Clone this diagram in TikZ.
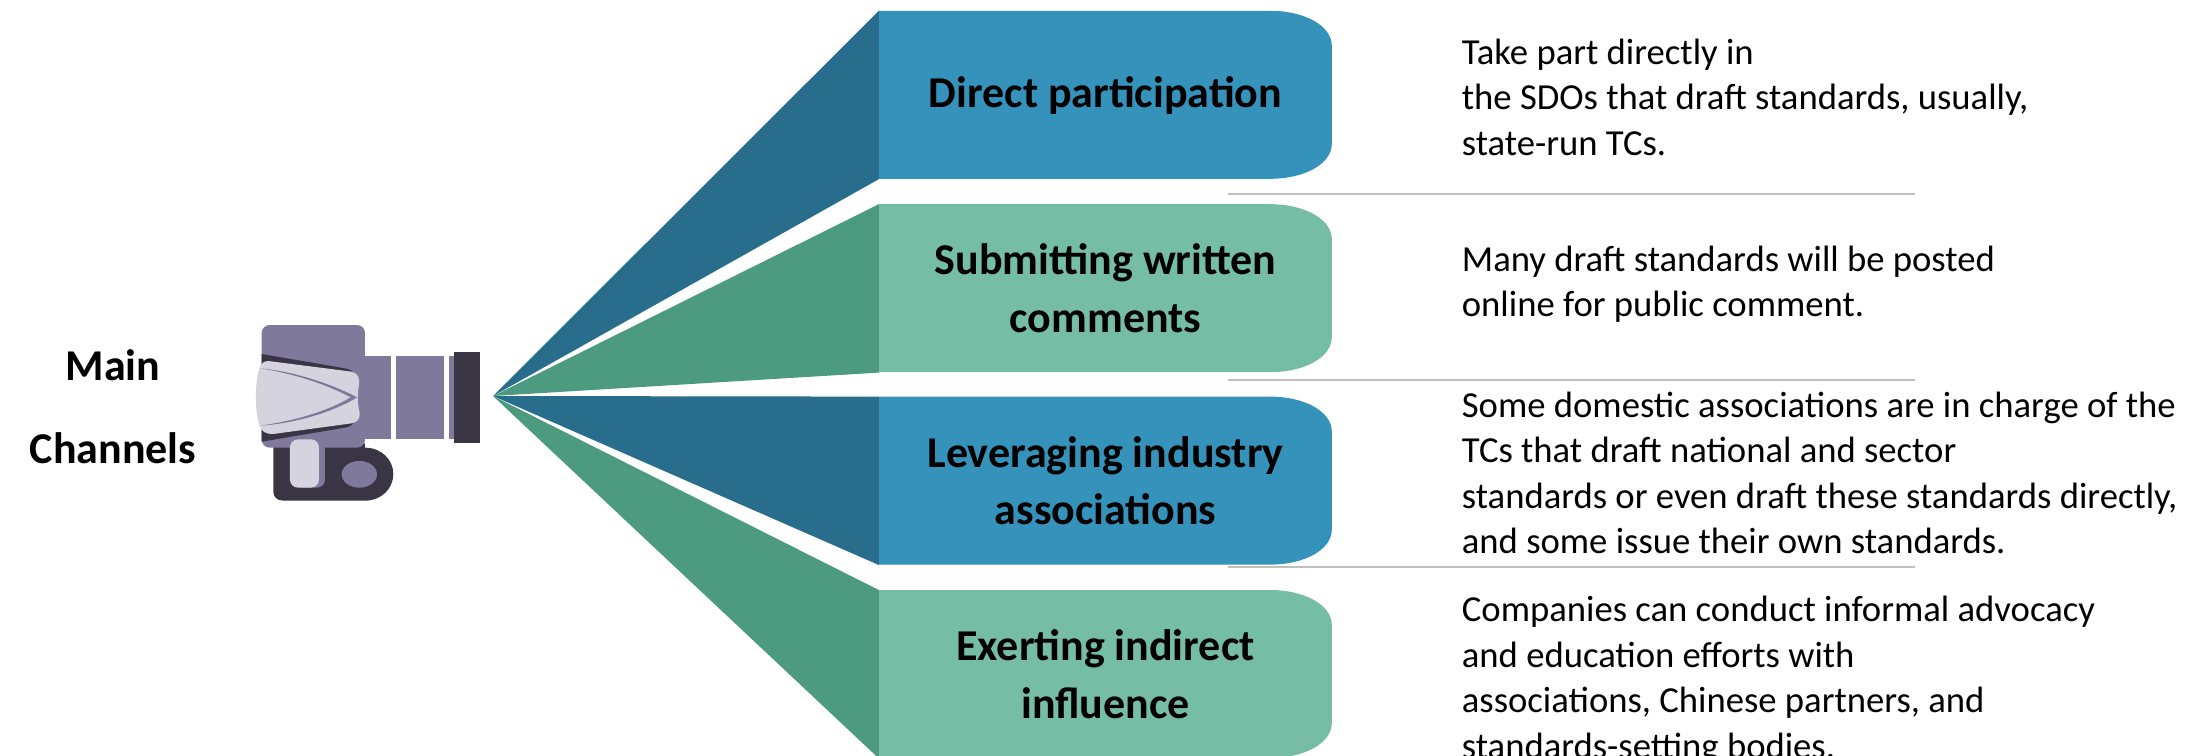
\documentclass[tikz,border=0pt]{standalone}
\usepackage{fontspec}
\setmainfont{Carlito}
\usetikzlibrary{positioning,backgrounds}
\definecolor{tabblue}{HTML}{3592BA}
\definecolor{wedgeblue}{HTML}{286E8C}
\definecolor{tabgreen}{HTML}{76BDA6}
\definecolor{wedgegreen}{HTML}{4C9B80}
\definecolor{rulegray}{HTML}{BFBFBF}
\definecolor{camgray}{HTML}{7F7A9C}
\definecolor{camdark}{HTML}{393545}
\definecolor{camlight}{HTML}{D5D3DE}

\begin{document}
\begin{tikzpicture}[x=1pt,y=-1pt]
                  \tikzstyle{channel}=[minimum width=453pt,minimum height=168pt,inner sep=0pt,align=center,font=\fontsize{44}{57.5}\selectfont\bfseries]
                  \tikzstyle{note}=[inner sep=0pt,align=left,font=\fontsize{36.67}{45.5}\selectfont]
                  \tikzstyle{title}=[inner sep=0pt,align=center,font=\fontsize{44}{82.6}\selectfont\bfseries]
                  \tikzstyle{rule}=[draw=rulegray,line width=1.2pt]
                  \tikzstyle{tab}=[shift={(#1.north west)},insert path={(0,0) -- (391,0) .. controls (426,0) and (453,15) .. (453,35) -- (453,133) .. controls (453,153) and (426,168) .. (391,168) -- (0,168) -- cycle}]
                  \tikzstyle{wedge}=[line width=0pt]

                  \useasboundingbox (0,0) rectangle (2206,755);

                  \node[channel]         (B1) at (1105.5,95)    {Direct participation};
                  \node[channel]         (B2) [below=25pt of B1] {Submitting written\\comments};
                  \node[channel]         (B3) [below=24pt of B2] {Leveraging industry\\associations};
                  \node[channel]         (B4) [below=25pt of B3] {Exerting indirect\\influence};

                  \node[note]            (N1) [right=129.5pt of B1,yshift=-2pt] {Take part directly in\\the SDOs that draft standards, usually,\\state-run TCs.};
                  \node[note]            (N2) [right=129.5pt of B2,yshift=4pt]  {Many draft standards will be posted\\online for public comment.};
                  \node[note]            (N3) [right=129.5pt of B3,yshift=8pt]  {Some domestic associations are in charge of the\\TCs that draft national and sector\\standards or even draft these standards directly,\\and some issue their own standards.};
                  \node[note]            (N4) [right=129.5pt of B4,yshift=-6pt] {Companies can conduct informal advocacy\\and education efforts with\\associations, Chinese partners, and\\standards-setting bodies.};

                  \node[title]           (M) at (113,407) {Main\hspace{11pt}\\Channels};

                  \coordinate (T) at (493,396);
                  \coordinate (R1a) at (1228,194);
                  \coordinate (R1b) at (1915,194);
                  \coordinate (R2a) at (1228,380);
                  \coordinate (R2b) at (1915,380);
                  \coordinate (R3a) at (1228,567);
                  \coordinate (R3b) at (1915,567);

                  \path[rule] (R1a) -- (R1b)
                              (R2a) -- (R2b)
                              (R3a) -- (R3b);

                  \begin{pgfonlayer}{background}
                  \fill[tabblue,tab=B1];
                  \fill[tabgreen,tab=B2];
                  \fill[tabblue,tab=B3];
                  \fill[tabgreen,tab=B4];

                  \fill[wedgeblue]  (T) -- (B1.north west) -- (B1.south west) -- cycle;
                  \fill[wedgegreen] (T) -- (B2.north west) -- (B2.south west) -- cycle;
                  \fill[wedgeblue]  (T) -- (B3.north west) -- (B3.south west) -- cycle;
                  \fill[wedgegreen] (T) -- (B4.north west) -- (B4.south west) -- cycle;
                  \end{pgfonlayer}

                  \begin{scope}[shift={(230,300)},x=0.3333pt,y=-0.3333pt]
                  \fill[camdark] (130,430) -- (405,430) -- (405,443) .. controls (455,443) and (490,480) .. (490,522) .. controls (490,565) and (455,602) .. (405,602) -- (160,602) .. controls (140,602) and (130,590) .. (130,575) -- cycle;
                  \fill[camgray,rounded corners=8pt] (95,75) rectangle (405,443);
                  \fill[camgray] (405,167) rectangle (483,418);
                  \fill[camgray] (498,167) rectangle (642,418);
                  \fill[camgray] (657,167) rectangle (672,418);
                  \fill[camdark] (672,156) rectangle (750,429);
                  \fill[camdark] (95,162) -- (345,205) .. controls (362,208) and (372,215) .. (372,225) -- (372,362) .. controls (372,372) and (362,380) .. (345,383) -- (95,425) -- cycle;
                  \fill[camlight] (115,183) -- (365,215) .. controls (385,220) and (390,235) .. (387,255) .. controls (382,285) and (382,305) .. (389,340) .. controls (390,358) and (382,366) .. (365,370) -- (130,402) .. controls (105,402) and (95,395) .. (88,375) .. controls (74,330) and (74,250) .. (88,205) .. controls (92,192) and (100,183) .. (115,183) -- cycle;
                  \fill[camgray] (90,205) .. controls (200,215) and (310,255) .. (382,292) .. controls (310,335) and (200,370) .. (90,377) .. controls (200,362) and (300,330) .. (362,292) .. controls (300,258) and (200,222) .. (90,205) -- cycle;
                  \fill[camgray,rounded corners=8pt] (195,418) rectangle (285,563);
                  \fill[camlight,rounded corners=8pt] (180,418) rectangle (267,563);
                  \fill[camgray] (388,523) ellipse [x radius=53,y radius=40];
                  \end{scope}
                \end{tikzpicture}
\end{document}
